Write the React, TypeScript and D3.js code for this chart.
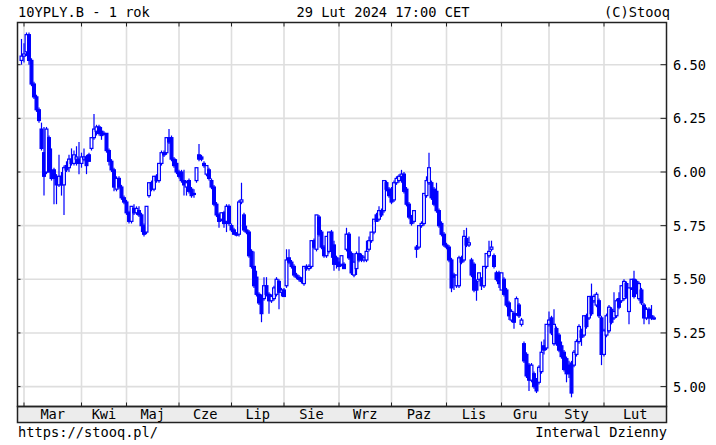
import React from "react";
import * as d3 from "d3";

const openV = [
6.52,6.54,6.56,6.64,6.52,6.41,6.35,6.29,6.20,6.09,
6.00,6.16,6.00,6.01,5.97,5.94,5.98,5.94,6.03,6.02,
6.06,6.04,6.06,6.06,6.04,6.06,6.07,6.08,6.11,6.16,
6.19,6.21,6.19,6.18,6.18,6.10,6.05,6.01,5.92,5.97,
5.93,5.88,5.86,5.81,5.77,5.83,5.81,5.82,5.80,5.75,
5.72,5.89,5.95,5.92,5.98,5.96,6.04,6.09,6.09,6.16,
6.16,6.06,6.04,6.00,6.00,5.96,5.93,5.96,5.92,5.90,
5.96,6.08,6.07,6.04,5.99,6.01,5.96,5.93,5.85,5.80,
5.78,5.81,5.77,5.84,5.75,5.73,5.71,5.71,5.86,5.80,
5.73,5.72,5.63,5.56,5.51,5.43,5.42,5.41,5.47,5.43,
5.40,5.41,5.43,5.49,5.44,5.45,5.47,5.60,5.58,5.56,
5.52,5.51,5.50,5.48,5.56,5.55,5.56,5.68,5.64,5.79,
5.72,5.65,5.61,5.63,5.72,5.66,5.60,5.58,5.57,5.57,
5.64,5.71,5.62,5.52,5.55,5.62,5.61,5.59,5.59,5.64,
5.68,5.72,5.80,5.78,5.82,5.82,5.95,5.92,5.92,5.87,
5.95,5.96,5.98,5.99,5.92,5.85,5.79,5.77,5.65,5.65,
5.75,5.76,5.89,5.95,5.95,5.92,5.91,5.82,5.76,5.71,
5.66,5.65,5.59,5.52,5.47,5.47,5.60,5.59,5.69,5.66,
5.59,5.57,5.49,5.50,5.50,5.47,5.56,5.61,5.64,5.61,
5.53,5.53,5.45,5.50,5.45,5.39,5.31,5.34,5.34,5.38,
5.29,5.20,5.15,5.10,5.03,5.06,5.03,5.02,5.07,5.19,
5.18,5.29,5.32,5.20,5.27,5.24,5.19,5.16,5.13,5.10,
5.11,5.10,5.15,5.21,5.26,5.24,5.33,5.32,5.42,5.40,
5.38,5.40,5.32,5.15,5.24,5.26,5.36,5.32,5.33,5.41,
5.40,5.41,5.48,5.35,5.46,5.50,5.49,5.41,5.45,5.38,
5.32,5.36,5.33,5.32];

const highV = [
6.62,6.60,6.65,6.65,6.53,6.42,6.36,6.30,6.23,6.21,
6.21,6.17,6.11,6.02,5.99,6.08,6.00,6.03,6.05,6.08,
6.11,6.10,6.12,6.14,6.09,6.11,6.08,6.09,6.16,6.27,
6.22,6.22,6.21,6.19,6.18,6.11,6.06,6.02,5.98,5.98,
5.94,5.89,5.87,5.82,5.84,5.85,5.84,5.84,5.81,5.76,
5.84,5.95,5.96,5.98,5.99,6.04,6.10,6.10,6.16,6.20,
6.17,6.07,6.06,6.01,6.01,6.01,5.96,5.97,5.93,5.92,
6.02,6.13,6.08,6.05,6.03,6.02,5.97,5.94,5.86,5.81,
5.81,5.82,5.85,5.85,5.76,5.74,5.72,5.87,5.95,5.81,
5.75,5.73,5.64,5.63,5.54,5.44,5.43,5.51,5.51,5.44,
5.43,5.47,5.51,5.50,5.46,5.46,5.64,5.64,5.59,5.57,
5.53,5.52,5.51,5.56,5.57,5.57,5.68,5.69,5.80,5.80,
5.73,5.66,5.70,5.72,5.73,5.68,5.61,5.60,5.61,5.58,
5.74,5.72,5.63,5.62,5.63,5.70,5.62,5.61,5.68,5.70,
5.72,5.78,5.81,5.84,5.83,5.96,5.96,5.93,5.93,5.96,
5.98,5.99,6.01,6.00,5.93,5.86,5.80,5.82,5.66,5.75,
5.77,5.90,5.98,6.09,5.96,5.93,5.95,5.83,5.77,5.72,
5.67,5.66,5.60,5.53,5.52,5.61,5.61,5.73,5.74,5.70,
5.60,5.58,5.50,5.53,5.51,5.56,5.62,5.68,5.68,5.62,
5.54,5.54,5.53,5.51,5.46,5.40,5.36,5.35,5.42,5.39,
5.32,5.21,5.16,5.11,5.11,5.07,5.04,5.10,5.21,5.22,
5.29,5.35,5.33,5.36,5.28,5.25,5.21,5.17,5.14,5.12,
5.12,5.17,5.22,5.29,5.27,5.33,5.34,5.42,5.48,5.43,
5.44,5.41,5.33,5.27,5.34,5.38,5.37,5.44,5.41,5.44,
5.47,5.50,5.49,5.46,5.50,5.54,5.50,5.49,5.46,5.39,
5.37,5.37,5.38,5.33];

const lowV = [
6.50,6.51,6.54,6.50,6.40,6.34,6.28,6.23,6.10,5.89,
5.99,6.00,5.96,5.85,5.85,5.93,5.89,5.80,6.00,6.00,
6.03,6.03,6.03,5.99,6.02,6.05,5.99,6.05,6.10,6.15,
6.17,6.17,6.15,6.17,6.09,6.03,6.00,5.91,5.91,5.92,
5.87,5.85,5.80,5.76,5.76,5.80,5.80,5.79,5.72,5.70,
5.71,5.88,5.91,5.91,5.95,5.95,6.03,6.07,6.08,6.13,
6.05,6.02,5.99,5.97,5.95,5.89,5.89,5.90,5.88,5.88,
5.95,6.05,6.05,6.02,5.98,5.96,5.92,5.84,5.79,5.74,
5.77,5.74,5.72,5.75,5.72,5.71,5.70,5.70,5.85,5.72,
5.71,5.60,5.55,5.46,5.42,5.38,5.30,5.40,5.42,5.34,
5.39,5.40,5.42,5.36,5.42,5.42,5.46,5.57,5.55,5.51,
5.50,5.49,5.48,5.47,5.54,5.54,5.55,5.64,5.63,5.70,
5.64,5.60,5.60,5.62,5.60,5.54,5.55,5.54,5.56,5.55,
5.63,5.59,5.52,5.51,5.52,5.58,5.58,5.58,5.58,5.63,
5.67,5.71,5.77,5.77,5.79,5.81,5.91,5.88,5.85,5.86,
5.94,5.95,5.95,5.90,5.84,5.78,5.75,5.76,5.60,5.64,
5.74,5.75,5.88,5.94,5.87,5.84,5.81,5.74,5.70,5.65,
5.64,5.58,5.44,5.45,5.46,5.46,5.57,5.58,5.65,5.65,
5.51,5.44,5.40,5.49,5.45,5.46,5.55,5.60,5.63,5.55,
5.49,5.46,5.45,5.42,5.37,5.31,5.30,5.27,5.33,5.32,
5.28,5.11,5.04,4.98,5.02,4.99,4.97,5.01,5.06,5.15,
5.17,5.28,5.24,5.19,5.19,5.16,5.13,5.07,5.02,5.04,
4.95,5.09,5.14,5.20,5.19,5.23,5.27,5.31,5.33,5.39,
5.37,5.32,5.10,5.14,5.23,5.25,5.29,5.31,5.32,5.36,
5.39,5.40,5.41,5.29,5.45,5.41,5.43,5.40,5.38,5.29,
5.31,5.29,5.31,5.31];

const closeV = [
6.54,6.55,6.64,6.52,6.41,6.35,6.29,6.24,6.11,5.98,
6.20,6.00,5.97,5.97,5.94,5.98,5.94,6.02,6.01,6.06,
6.04,6.08,6.07,6.04,6.07,6.07,6.03,6.05,6.16,6.20,
6.21,6.18,6.17,6.18,6.10,6.05,6.01,5.93,5.97,5.93,
5.88,5.86,5.81,5.77,5.84,5.81,5.83,5.80,5.75,5.71,
5.84,5.95,5.92,5.98,5.96,6.04,6.09,6.08,6.16,6.14,
6.06,6.03,6.00,5.98,5.96,5.94,5.95,5.91,5.89,5.90,
6.02,6.06,6.06,6.03,6.03,5.97,5.93,5.85,5.80,5.77,
5.81,5.76,5.84,5.76,5.73,5.71,5.71,5.86,5.87,5.73,
5.72,5.61,5.56,5.47,5.43,5.39,5.34,5.47,5.43,5.40,
5.42,5.46,5.50,5.44,5.45,5.42,5.59,5.58,5.56,5.52,
5.51,5.50,5.49,5.56,5.55,5.56,5.68,5.65,5.80,5.71,
5.65,5.61,5.70,5.72,5.63,5.57,5.57,5.56,5.61,5.55,
5.71,5.60,5.53,5.58,5.62,5.59,5.59,5.60,5.63,5.68,
5.72,5.78,5.77,5.82,5.80,5.96,5.92,5.89,5.86,5.95,
5.97,5.98,5.99,5.91,5.85,5.79,5.76,5.82,5.64,5.75,
5.76,5.90,5.96,6.02,5.88,5.85,5.82,5.75,5.71,5.66,
5.65,5.59,5.46,5.51,5.52,5.60,5.58,5.70,5.66,5.67,
5.52,5.45,5.45,5.53,5.47,5.56,5.62,5.63,5.65,5.56,
5.50,5.48,5.53,5.43,5.38,5.33,5.35,5.30,5.41,5.33,
5.31,5.12,5.05,5.03,5.10,5.00,4.98,5.09,5.16,5.17,
5.29,5.31,5.25,5.29,5.20,5.17,5.14,5.08,5.06,5.06,
4.97,5.16,5.21,5.28,5.23,5.33,5.28,5.42,5.34,5.42,
5.43,5.33,5.15,5.26,5.33,5.37,5.30,5.35,5.40,5.37,
5.47,5.49,5.42,5.46,5.50,5.42,5.44,5.48,5.39,5.32,
5.36,5.32,5.32,5.32];

const monthStarts = [1, 24, 42, 63, 84, 105, 127, 148, 170, 192, 211, 233];
const monthLabels = ["Mar", "Kwi", "Maj", "Cze", "Lip", "Sie", "Wrz", "Paz", "Lis", "Gru", "Sty", "Lut"];
const yTicks = [5.0, 5.25, 5.5, 5.75, 6.0, 6.25, 6.5];

const W = 716, H = 445;
const L = 17.5, R = 666.5, T = 22.5, B = 406.5, BAND = 422.5;
const FONT = "'DejaVu Sans Mono', monospace";
const FS = 13.7;

export default function App() {
  const n = closeV.length;
  const x = d3.scaleLinear().domain([0, 253]).range([21.5, 654]);
  const y = d3.scaleLinear().domain([5.0, 6.5]).range([386.6, 64.7]);
  const blue = "#0000ff";
  const candles = d3.range(n).map((i) => ({
    i, o: openV[i], h: highV[i], l: lowV[i], c: closeV[i],
  }));
  const labelX = monthStarts.map((s, k) => {
    const a = x(s);
    const b = k < monthStarts.length - 1 ? x(monthStarts[k + 1]) : R;
    return (a + b) / 2;
  });
  return (
    <svg width={W} height={H} style={{ position: "absolute", left: 0, top: 0, background: "#fff" }}
      fontFamily={FONT} fontSize={FS}>
      <rect x={0} y={0} width={W} height={H} fill="#fff" />
      {yTicks.map((t) => (
        <line key={"gy" + t} x1={L} x2={R} y1={y(t)} y2={y(t)} stroke="#dedede" strokeWidth={1.6} />
      ))}
      {monthStarts.map((s) => (
        <line key={"gx" + s} x1={x(s)} x2={x(s)} y1={T} y2={B} stroke="#dedede" strokeWidth={1.6} />
      ))}
      {candles.map((d) => (
        <line key={"w" + d.i} x1={x(d.i)} x2={x(d.i)} y1={y(d.h)} y2={y(d.l)} stroke={blue} strokeWidth={1.2} />
      ))}
      {candles.map((d) => {
        const up = d.c >= d.o;
        const top = y(Math.max(d.o, d.c));
        const bot = y(Math.min(d.o, d.c));
        const hgt = Math.max(bot - top, 1);
        return (
          <rect key={"b" + d.i} x={x(d.i) - 1.4} y={top} width={2.8} height={hgt}
            fill={up ? "#ffffff" : blue} stroke={blue} strokeWidth={1.2} />
        );
      })}
      <rect x={L} y={B} width={R - L} height={BAND - B} fill="#ececec" stroke="#222" strokeWidth={1.5} />
      <rect x={L} y={T} width={R - L} height={B - T} fill="none" stroke="#222" strokeWidth={1.5} />
      {monthStarts.map((s) => (
        <g key={"mt" + s}>
          <line x1={x(s)} x2={x(s)} y1={T} y2={T + 4} stroke="#222" strokeWidth={1} />
          <line x1={x(s)} x2={x(s)} y1={B - 4} y2={B} stroke="#222" strokeWidth={1} />
        </g>
      ))}
      {monthLabels.map((m, k) => (
        <text key={"ml" + m} x={labelX[k]} y={419} textAnchor="middle" fill="#000">{m}</text>
      ))}
      {yTicks.map((t) => (
        <g key={"yt" + t}>
          <line x1={R - 6} x2={R} y1={y(t)} y2={y(t)} stroke="#222" strokeWidth={1} />
          <line x1={L} x2={L + 3} y1={y(t)} y2={y(t)} stroke="#222" strokeWidth={1} />
          <text x={673} y={y(t)} dy="0.36em" fill="#000">{d3.format(".2f")(t)}</text>
        </g>
      ))}
      <text x={18} y={17} fill="#000">10YPLY.B - 1 rok</text>
      <text x={383} y={17} textAnchor="middle" fill="#000">29 Lut 2024 17:00 CET</text>
      <text x={670} y={17} textAnchor="end" fill="#000">(C)Stooq</text>
      <text x={18} y={437} fill="#000">https://stooq.pl/</text>
      <text x={667} y={437} textAnchor="end" fill="#000">Interwal Dzienny</text>
    </svg>
  );
}
